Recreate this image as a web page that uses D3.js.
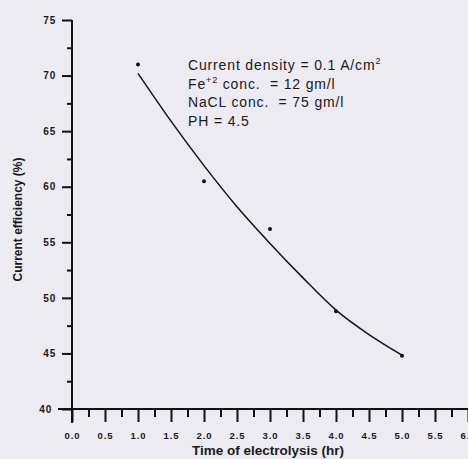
<!DOCTYPE html>
<html>
<head>
<meta charset="utf-8">
<script src="https://cdn.jsdelivr.net/npm/d3@7"></script>
<style>
  html, body { margin: 0; padding: 0; background: #ebebf1; }
  svg { display: block; }
  text { font-family: "Liberation Sans", Arial, sans-serif; fill: #1a1a1a; }
</style>
</head>
<body>
<svg id="chart" width="468" height="459"></svg>
<script>
// Measured current efficiency vs. electrolysis time
const timeHr = [1.0, 2.0, 3.0, 4.0, 5.0];
const efficiency = [71.0, 60.5, 56.2, 48.8, 44.8];

// Trend line read along the drawn fit
const fitTime = [1.0, 1.5, 2.0, 2.5, 3.0, 3.5, 4.0, 4.5, 5.0];
const fitEff = [70.2, 65.9, 61.9, 58.2, 54.9, 51.8, 48.9, 46.7, 44.85];

const xTicks = [0, 0.5, 1, 1.5, 2, 2.5, 3, 3.5, 4, 4.5, 5, 5.5, 6];
const xTickLabels = ["0.0", "0.5", "1.0", "1.5", "2.0", "2.5", "3.0", "3.5", "4.0", "4.5", "5.0", "5.5", "6.0"];
const yTicks = [40, 45, 50, 55, 60, 65, 70, 75];
const yTickLabels = ["40", "45", "50", "55", "60", "65", "70", "75"];

// Operating conditions: [text, isSuperscript]
const conditions = [
  [["Current density = 0.1 A/cm", 0], ["2", 1]],
  [["Fe", 0], ["+2", 1], [" conc.  = 12 gm/l", 0]],
  [["NaCL conc.  = 75 gm/l", 0]],
  [["PH = 4.5", 0]]
];

const svg = d3.select("#chart");

const x = d3.scaleLinear().domain([0, 6]).range([72, 468]);
const y = d3.scaleLinear().domain([40, 75]).range([409, 20]);

// Y axis: major ticks every 5, minor ticks between
const yAxis = d3.axisLeft(y).tickValues(yTicks).tickSize(10).tickPadding(6)
  .tickFormat((d, i) => yTickLabels[i]);
const yMinor = d3.axisLeft(y).tickValues(yTicks.slice(0, -1).map(v => v + 2.5)).tickSize(5).tickFormat("");

const gy = svg.append("g").attr("transform", `translate(${x(0)},0)`).call(yAxis);
svg.append("g").attr("transform", `translate(${x(0)},0)`).call(yMinor).select(".domain").remove();

// X axis: major ticks every 0.5, minor between
const xAxis = d3.axisBottom(x).tickValues(xTicks).tickSize(13).tickPadding(10)
  .tickFormat((d, i) => xTickLabels[i]);
const xMinor = d3.axisBottom(x).tickValues(xTicks.slice(0, -1).map(v => v + 0.25)).tickSize(8).tickFormat("");

const gx = svg.append("g").attr("transform", `translate(0,${y(40)})`).call(xAxis);
svg.append("g").attr("transform", `translate(0,${y(40)})`).call(xMinor).select(".domain").remove();

svg.selectAll(".domain").attr("stroke", "#111").attr("stroke-width", 2);
gy.select(".domain").attr("d", `M0,${y(75)}V${y(40) + 14}`);
gx.select(".domain").attr("d", `M${x(0) - 14},0H${x(6)}`);
svg.selectAll(".tick line").attr("stroke", "#111").attr("stroke-width", 2);

gy.selectAll(".tick text").style("font-size", "10px").style("font-weight", "bold")
  .attr("letter-spacing", "0.8px");
// the bottom label sits clear of the extended baseline
gy.selectAll(".tick").filter(d => d === 40).select("text").attr("dx", -4);
gx.selectAll(".tick text").style("font-size", "9.5px").style("font-weight", "bold")
  .attr("letter-spacing", "1px");

// Axis titles
svg.append("text")
  .attr("transform", `translate(22,${(y(75) + y(40)) / 2 + 5}) rotate(-90)`)
  .attr("text-anchor", "middle")
  .style("font-size", "12px").style("font-weight", "bold")
  .text("Current efficiency (%)");

svg.append("text")
  .attr("x", 268).attr("y", 455)
  .attr("text-anchor", "middle")
  .style("font-size", "13.5px").style("font-weight", "bold")
  .text("Time of electrolysis (hr)");

// Fitted trend
const line = d3.line().x(d => x(d[0])).y(d => y(d[1])).curve(d3.curveMonotoneX);
svg.append("path")
  .datum(fitTime.map((t, i) => [t, fitEff[i]]))
  .attr("d", line)
  .attr("fill", "none").attr("stroke", "#151515").attr("stroke-width", 1.5);

// Measured points
svg.append("g").selectAll("circle")
  .data(timeHr.map((t, i) => [t, efficiency[i]]))
  .join("circle")
  .attr("cx", d => x(d[0])).attr("cy", d => y(d[1]))
  .attr("r", 2).attr("fill", "#111");

// Operating conditions block
const condG = svg.append("g");
conditions.forEach((row, i) => {
  const t = condG.append("text")
    .attr("x", 188).attr("y", 70 + i * 18.5)
    .attr("xml:space", "preserve")
    .style("white-space", "pre")
    .style("font-size", "14px")
    .attr("letter-spacing", "0.85px");
  row.forEach(([txt, sup]) => {
    const s = t.append("tspan").text(txt);
    if (sup) s.style("font-size", "9px").attr("baseline-shift", "6");
  });
});
</script>
</body>
</html>
